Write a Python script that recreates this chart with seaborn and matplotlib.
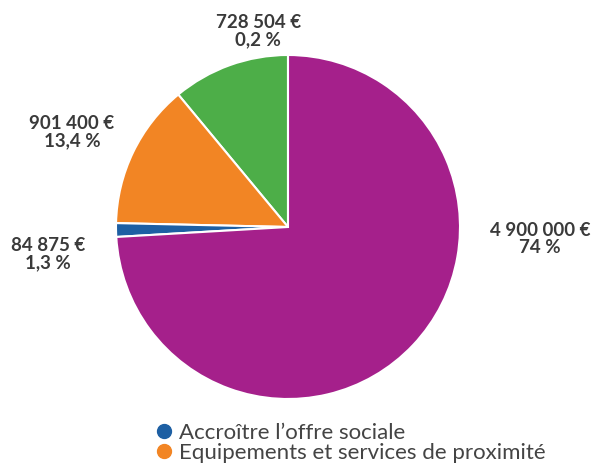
import matplotlib
matplotlib.use("Agg")
import matplotlib.pyplot as plt
from matplotlib.lines import Line2D
import seaborn as sns

# Data (counter-clockwise from top)
categories = ["Autre (vert)", "Equipements et services de proximité", "Accroître l’offre sociale", "Autre (violet)"]
values = [728504, 901400, 84875, 4900000]
amount_labels = ["728 504 €", "901 400 €", "84 875 €", "4 900 000 €"]
pct_labels = ["0,2 %", "13,4 %", "1,3 %", "74 %"]
colors = ["#4DAE48", "#F28524", "#1D5FA3", "#A5208B"]
legend_names = ["Accroître l’offre sociale", "Equipements et services de proximité"]
legend_colors = ["#1D5FA3", "#F28524"]

sns.set_style("white")
plt.rcParams["font.family"] = ["Lato", "DejaVu Sans"]

fig = plt.figure(figsize=(5.97, 4.65), dpi=100)
ax = fig.add_axes([116 / 597, (465 - 399) / 465, 344 / 597, 344 / 465])
ax.pie(values, colors=colors, startangle=90, counterclock=True,
       wedgeprops=dict(edgecolor="white", linewidth=1.5))
ax.set_xlim(-1, 1)
ax.set_ylim(-1, 1)
ax.set_aspect("equal")
ax.axis("off")

label_pos = [(-0.174, 1.14), (-1.256, 0.552), (-1.395, -0.157), (1.465, -0.070)]
for (x, y), a, p in zip(label_pos, amount_labels, pct_labels):
    ax.text(x, y, f"{a}\n{p}", ha="center", va="center", fontsize=13.5,
            fontweight="bold", color="#3a3a3a", linespacing=1.0)

handles = [Line2D([0], [0], marker="o", linestyle="", markersize=10,
                  markerfacecolor=c, markeredgecolor=c) for c in legend_colors]
fig.legend(handles, legend_names, loc="upper left",
           bbox_to_anchor=(142 / 597, 1 - 412 / 465), frameon=False,
           fontsize=16, labelspacing=-0.02, handletextpad=0.15,
           handlelength=1.0, borderpad=0, labelcolor="#444444")

fig.savefig("out.png", dpi=100, facecolor="white")
